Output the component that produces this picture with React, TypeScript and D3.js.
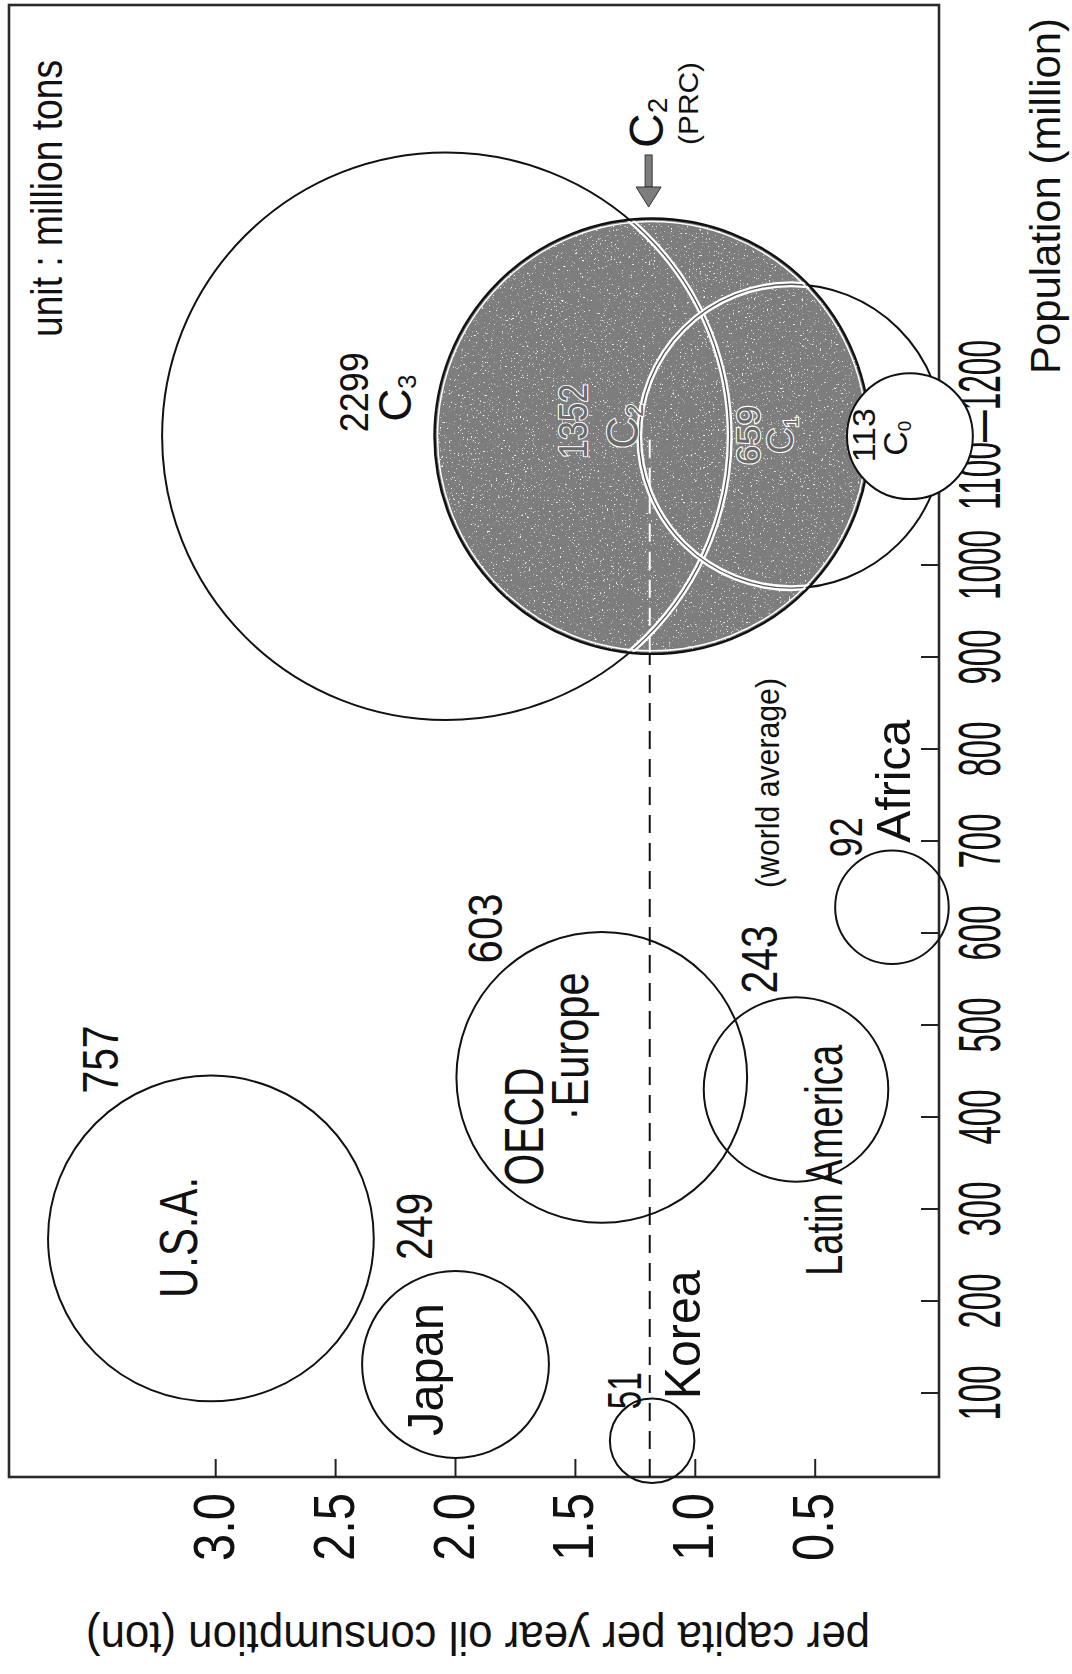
import React from "react";
import * as d3 from "d3";

// ---------- data ----------
const regionNames = ["U.S.A.", "Japan", "Korea", "OECD Europe", "Latin America", "Africa"];
const regionPopulation = [268, 131, 48, 443, 430, 628]; // million
const regionPerCapita = [3.02, 2.0, 1.18, 1.39, 0.58, 0.18]; // ton / capita / year
const regionConsumption = [757, 249, 51, 603, 243, 92]; // million tons

const prcScenarios = ["3", "2", "1", "0"]; // C3, C2, C1, C0
const prcPopulation = [1140, 1140, 1140, 1140];
const prcPerCapita = [2.04, 1.18, 0.6, 0.105];
const prcConsumption = [2299, 1352, 659, 113];

const worldAverage = 1.19;

const popTicks = [100, 200, 300, 400, 500, 600, 700, 800, 900, 1000, 1100];
const popTickLabels = ["100", "200", "300", "400", "500", "600", "700", "800", "900", "1000", "1100\u20141200"];
const perCapitaTicks = [3.0, 2.5, 2.0, 1.5, 1.0, 0.5];
const perCapitaTickLabels = ["3.0", "2.5", "2.0", "1.5", "1.0", "0.5"];

// ---------- layout (chart coordinates, drawn rotated -90deg) ----------
const W = 1072;
const H = 1674;
const FONT = "'Liberation Sans', Arial, Helvetica, sans-serif";

const xScale = d3.scaleLinear().domain([0, 1600]).range([189, 1661]);
const yScale = d3.scaleLinear().domain([0, 3]).range([935.1, 215.7]);
const rScale = d3.scaleSqrt().domain([0, 2299]).range([0, 283.8]);

const frame = { x0: 197, x1: 1669, y0: 9, y1: 939 };

const regionNameLayout = [
  [{ t: "U.S.A.", dx: 1, dy: -14, size: 54, len: 121 }],
  [{ t: "Japan", dx: -5, dy: -13, size: 50, len: 133 }],
  [{ t: "Korea", dx: 106, dy: 48, size: 50, len: 129 }],
  [
    { t: "OECD", dx: -49, dy: -59, size: 55, len: 118 },
    { t: "\u00b7Europe", dx: 31, dy: -14, size: 52, len: 148 },
  ],
  [{ t: "Latin America", dx: -71, dy: 46, size: 52, len: 231 }],
  [{ t: "Africa", dx: 126, dy: 18, size: 48, len: 123 }],
];
const regionValueLayout = [
  { dx: 179, dy: -93, size: 50, len: 68 },
  { dx: 138, dy: -23.5, size: 50, len: 67 },
  { dx: 50, dy: -11, size: 48, len: 37 },
  { dx: 149, dy: -100, size: 48, len: 70 },
  { dx: 130, dy: -19, size: 50, len: 68 },
  { dx: 70, dy: -30, size: 46, len: 40 },
];
const prcLabelLayout = [
  { vdx: 44, vdy: -78, vsize: 40, vlen: 80, cdx: 38, cdy: -35, csize: 46, halo: false },
  { vdx: 15, vdy: -65, vsize: 40, vlen: 75, cdx: 10, cdy: -14, csize: 44, halo: true },
  { vdx: 1, vdy: -31, vsize: 34, vlen: 60, cdx: 1, cdy: 2, csize: 36, halo: true },
  { vdx: 1, vdy: -35, vsize: 32, vlen: 54, cdx: -2, cdy: -3, csize: 34, halo: false },
];

function Txt(props: any) {
  const { x, y, t, size, len, anchor = "middle", fill = "#111", halo = false, transform } = props;
  return (
    <text
      x={x}
      y={y}
      transform={transform}
      fontFamily={FONT}
      fontSize={size}
      textAnchor={anchor}
      textLength={len}
      lengthAdjust="spacingAndGlyphs"
      fill={fill}
      stroke={halo ? "#fff" : "none"}
      strokeWidth={halo ? 2.2 : 0}
      paintOrder="stroke"
    >
      {t}
    </text>
  );
}

function CLabel(props: any) {
  const { x, y, sub, size, halo } = props;
  return (
    <text
      x={x}
      y={y}
      fontFamily={FONT}
      fontSize={size}
      textAnchor="middle"
      fill={halo ? "#6a6a6a" : "#111"}
      stroke={halo ? "#fff" : "none"}
      strokeWidth={halo ? 2.2 : 0}
      paintOrder="stroke"
    >
      <tspan>C</tspan>
      <tspan fontSize={size * 0.55} dy={size * 0.12}>
        {sub}
      </tspan>
    </text>
  );
}

export default function App() {
  const regions = regionNames.map((n, i) => ({
    name: n,
    cx: xScale(regionPopulation[i]),
    cy: yScale(regionPerCapita[i]),
    r: rScale(regionConsumption[i]),
    value: regionConsumption[i],
  }));
  const prc = prcScenarios.map((s, i) => ({
    sub: s,
    cx: xScale(prcPopulation[i]),
    cy: yScale(prcPerCapita[i]),
    r: rScale(prcConsumption[i]),
    value: prcConsumption[i],
  }));
  const [c3, c2, c1, c0] = prc;
  const avgY = yScale(worldAverage);

  return (
    <svg
      width={W}
      height={H}
      viewBox={`0 0 ${W} ${H}`}
      style={{ position: "absolute", left: 0, top: 0, background: "#fff" }}
    >
      <defs>
        <clipPath id="c2clip">
          <circle cx={c2.cx} cy={c2.cy} r={c2.r - 1} />
        </clipPath>
        <filter id="speck" x="0" y="0" width="100%" height="100%">
          <feTurbulence type="fractalNoise" baseFrequency="0.55" numOctaves="2" seed="7" result="n" />
          <feColorMatrix
            in="n"
            type="matrix"
            values="0 0 0 0 1  0 0 0 0 1  0 0 0 0 1  9 0 0 0 -5.9"
          />
        </filter>
      </defs>
      <rect x={0} y={0} width={W} height={H} fill="#fff" />
      <g transform={`translate(0,${H}) rotate(-90)`}>
        {/* frame */}
        <rect
          x={frame.x0}
          y={frame.y0}
          width={frame.x1 - frame.x0}
          height={frame.y1 - frame.y0}
          fill="none"
          stroke="#2a2a2a"
          strokeWidth={2.6}
        />
        {/* ticks */}
        {popTicks.map((p) => (
          <line key={"pt" + p} x1={xScale(p)} x2={xScale(p)} y1={frame.y1} y2={frame.y1 - 18} stroke="#222" strokeWidth={2} />
        ))}
        {perCapitaTicks.map((v) => (
          <line key={"vt" + v} x1={frame.x0} x2={frame.x0 + 18} y1={yScale(v)} y2={yScale(v)} stroke="#222" strokeWidth={2} />
        ))}
        {/* tick labels */}
        {popTicks.map((p, i) =>
          i < popTicks.length - 1 ? (
            <Txt key={"pl" + p} x={xScale(p)} y={1000} t={popTickLabels[i]} size={60} len={popTickLabels[i].length > 3 ? 70 : 55} />
          ) : (
            <Txt key={"pl" + p} x={xScale(p) - 37} y={1000} t={popTickLabels[i]} size={60} len={170} anchor="start" />
          )
        )}
        {perCapitaTicks.map((v, i) => (
          <Txt key={"vl" + v} x={181} y={yScale(v) + 18} t={perCapitaTickLabels[i]} size={57} len={68} anchor="end" />
        ))}

        {/* regional circles */}
        {regions.map((d) => (
          <circle key={d.name} cx={d.cx} cy={d.cy} r={d.r} fill="none" stroke="#111" strokeWidth={2} />
        ))}

        {/* PRC scenarios */}
        <circle cx={c3.cx} cy={c3.cy} r={c3.r} fill="none" stroke="#111" strokeWidth={2} />
        <circle cx={c1.cx} cy={c1.cy} r={c1.r} fill="none" stroke="#111" strokeWidth={2} />
        <circle cx={c2.cx} cy={c2.cy} r={c2.r} fill="#7d7d7d" />
        <g clipPath="url(#c2clip)">
          <rect x={c2.cx - c2.r} y={c2.cy - c2.r} width={2 * c2.r} height={2 * c2.r} fill="#fff" filter="url(#speck)" opacity={0.9} />
          <circle cx={c3.cx} cy={c3.cy} r={c3.r} fill="none" stroke="#fff" strokeWidth={6} />
          <circle cx={c3.cx} cy={c3.cy} r={c3.r} fill="none" stroke="#555" strokeWidth={1.3} />
          <circle cx={c1.cx} cy={c1.cy} r={c1.r} fill="none" stroke="#fff" strokeWidth={6} />
          <circle cx={c1.cx} cy={c1.cy} r={c1.r} fill="none" stroke="#555" strokeWidth={1.3} />
          <line x1={c2.cx - c2.r} x2={c2.cx} y1={avgY} y2={avgY} stroke="#fff" strokeWidth={2} strokeDasharray="18 10" />
        </g>
        <circle cx={c2.cx} cy={c2.cy} r={c2.r - 3} fill="none" stroke="#fff" strokeWidth={1.5} />
        <circle cx={c2.cx} cy={c2.cy} r={c2.r} fill="none" stroke="#111" strokeWidth={2.4} />
        <circle cx={c0.cx} cy={c0.cy} r={c0.r} fill="#fff" stroke="#111" strokeWidth={2} />

        {/* world average line */}
        <line x1={frame.x0} x2={c2.cx - c2.r} y1={avgY} y2={avgY} stroke="#111" strokeWidth={2} strokeDasharray="18 10" />

        {/* region labels */}
        {regions.map((d, i) => (
          <g key={"lab" + d.name}>
            {regionNameLayout[i].map((l) => (
              <Txt key={l.t} x={d.cx + l.dx} y={d.cy + l.dy} t={l.t} size={l.size} len={l.len} />
            ))}
            <Txt
              x={d.cx + regionValueLayout[i].dx}
              y={d.cy + regionValueLayout[i].dy}
              t={String(d.value)}
              size={regionValueLayout[i].size}
              len={regionValueLayout[i].len}
            />
          </g>
        ))}

        {/* PRC labels */}
        {prc.map((d, i) => {
          const L = prcLabelLayout[i];
          return (
            <g key={"prc" + d.sub}>
              <Txt
                x={d.cx + L.vdx}
                y={d.cy + L.vdy}
                t={String(d.value)}
                size={L.vsize}
                len={L.vlen}
                halo={L.halo}
                fill={L.halo ? "#6a6a6a" : "#111"}
              />
              <CLabel x={d.cx + L.cdx} y={d.cy + L.cdy} sub={d.sub} size={L.csize} halo={L.halo} />
            </g>
          );
        })}

        {/* world average text */}
        <Txt x={891} y={avgY + 129} t="(world average)" size={33} len={210} />

        {/* C2 (PRC) arrow annotation */}
        <rect x={1487} y={c2.cy - 7} width={32} height={7} fill="#7d7d7d" stroke="#333" strokeWidth={1} />
        <polygon
          points={`1487,${c2.cy - 16} 1487,${c2.cy + 9} 1467,${c2.cy - 3.5}`}
          fill="#7d7d7d"
          stroke="#333"
          strokeWidth={1}
        />
        <text x={1526} y={663} fontFamily={FONT} fontSize={48} fill="#111">
          <tspan>C</tspan>
          <tspan fontSize={28} dy={4}>2</tspan>
        </text>
        <Txt x={1529} y={698} t="(PRC)" size={28} len={83} anchor="start" />

        {/* unit & axis titles */}
        <Txt x={1337} y={62} t="unit : million tons" size={44} len={277} anchor="start" />
        <Txt x={1656} y={1060} t="Population (million)" size={43} len={356} anchor="end" />
        <Txt
          x={0}
          y={0}
          transform={`translate(52,478) rotate(-90)`}
          t="per capita per year oil consumption (ton)"
          size={46}
          len={784}
        />
      </g>
    </svg>
  );
}
